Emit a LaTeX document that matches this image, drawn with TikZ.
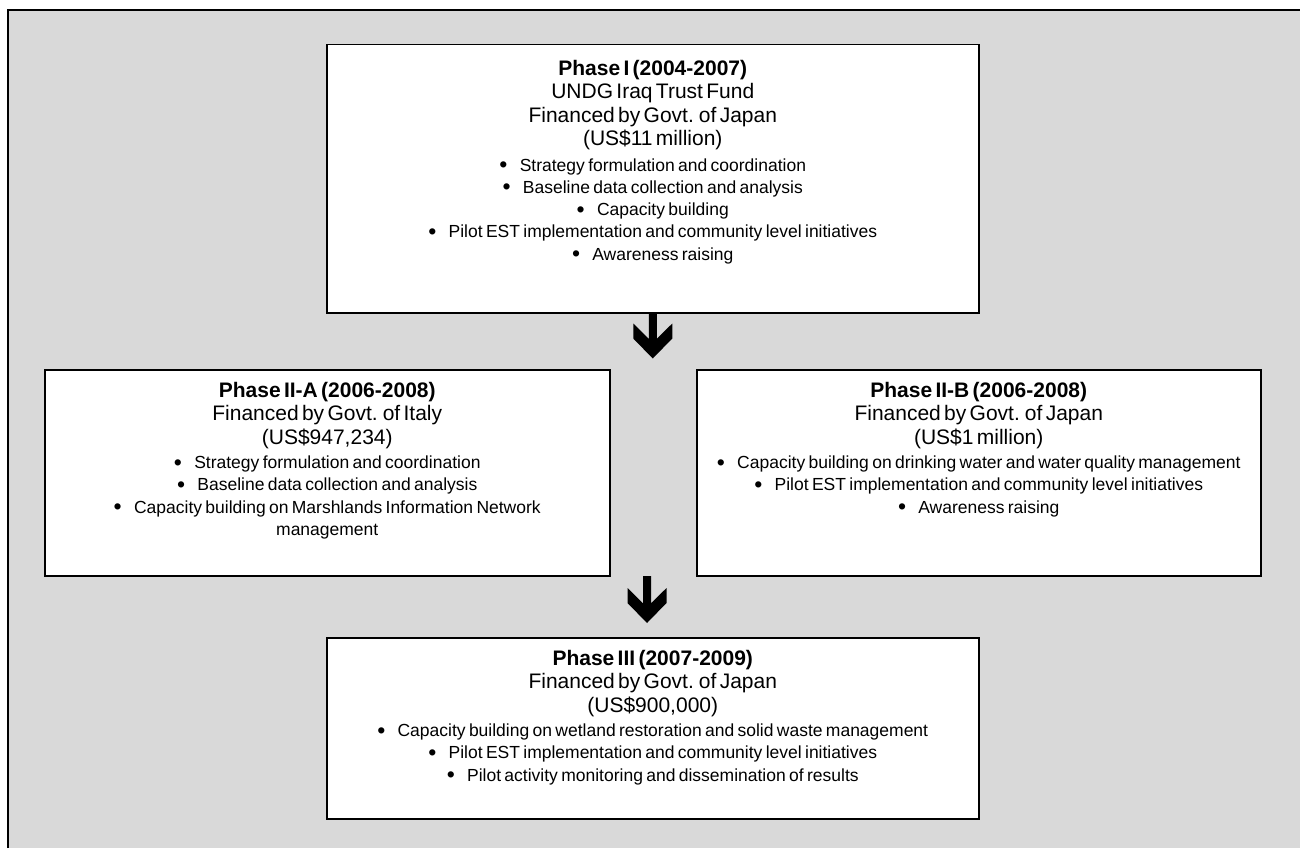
\documentclass[tikz,border=0pt]{standalone}
\usepackage{fontspec}
\setmainfont{Liberation Sans}
\usepackage{tikz}
\usetikzlibrary{positioning, calc}
\definecolor{panelgray}{RGB}{217,217,217}
\newcommand{\ttlfont}{\fontsize{21}{23.5}\selectfont}
\newcommand{\itmfont}{\fontsize{17.5}{22.3}\selectfont}
\newcommand{\bul}{\raisebox{-1.5pt}{\fontsize{23}{0}\selectfont\textbullet}\hspace{0.7em}}
% block arrow: #1 start, #2 tip
\newcommand{\phasearrow}[2]{%
  \fill ($(#1)+(-4,0)$) -- ($(#2)+(-4,-19.6)$) -- ($(#2)+(-19.5,-35)$)
    -- ($(#2)+(-19.5,-20)$) -- (#2) -- ($(#2)+(19.5,-20)$)
    -- ($(#2)+(19.5,-35)$) -- ($(#2)+(4,-19.6)$) -- ($(#1)+(4,0)$) -- cycle;}

\begin{document}
\begin{tikzpicture}[
    x=1pt, y=-1pt,
    phase/.style={draw, line width=1.5pt, fill=white, anchor=north west,
                  inner sep=0pt, align=center, text width=#1},
    frame/.style={line width=2pt},
]
    \useasboundingbox (0,0) rectangle (1300,848);

    % Background panel
    \fill[panelgray] (8,10) rectangle (1300,848);
    \draw[frame] (8,848) -- (8,10) -- (1300,10);

    % Row 1: Phase I
    \node[phase=652pt, text height=30.5pt, text depth=237.5pt] (ph1) at (326,44) {%
        {\ttlfont\textbf{Phase I (2004-2007)}\\
        UNDG Iraq Trust Fund\\
        Financed by Govt. of Japan\\
        (US\$11 million)\par}
        \vspace{3pt}
        {\itmfont\bul Strategy formulation and coordination\\
        \bul Baseline data collection and analysis\\
        \bul Capacity building\\
        \bul Pilot EST implementation and community level initiatives\\
        \bul Awareness raising\par}};

    % Row 2: Phase II-A and II-B
    \node[phase=565pt, text height=27.5pt, text depth=178.5pt] (ph2a) at (44,369) {%
        {\ttlfont\textbf{Phase II-A (2006-2008)}\\
        Financed by Govt. of Italy\\
        (US\$947,234)\par}
        \vspace{2pt}
        {\itmfont\bul Strategy formulation and coordination\\
        \bul Baseline data collection and analysis\\
        \bul Capacity building on Marshlands Information Network\\
        management\par}};
    \node[phase=564pt, text height=27.5pt, text depth=178.5pt] (ph2b) at (696,369) {%
        {\ttlfont\textbf{Phase II-B (2006-2008)}\\
        Financed by Govt. of Japan\\
        (US\$1 million)\par}
        \vspace{2pt}
        {\itmfont\bul Capacity building on drinking water and water quality management\\
        \bul Pilot EST implementation and community level initiatives\\
        \bul Awareness raising\par}};

    % Row 3: Phase III
    \node[phase=652pt, text height=27.5pt, text depth=153.5pt] (ph3) at (326,637) {%
        {\ttlfont\textbf{Phase III (2007-2009)}\\
        Financed by Govt. of Japan\\
        (US\$900,000)\par}
        \vspace{2pt}
        {\itmfont\bul Capacity building on wetland restoration and solid waste management\\
        \bul Pilot EST implementation and community level initiatives\\
        \bul Pilot activity monitoring and dissemination of results\par}};

    % Arrows
    \coordinate (tip1) at ($(ph1.south)+(0,45)$);
    \coordinate (top2) at (647,576);
    \coordinate (tip2) at (647,623);
    \phasearrow{ph1.south}{tip1}
    \phasearrow{top2}{tip2}
\end{tikzpicture}
\end{document}
